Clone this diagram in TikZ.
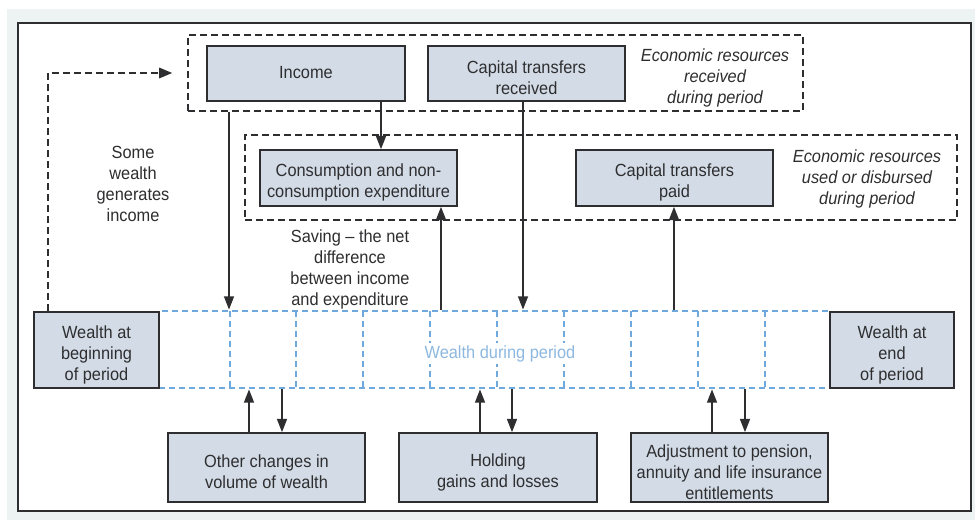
\documentclass[tikz,border=0pt]{standalone}
\usepackage{fontspec}
\setmainfont{Liberation Sans}[FakeStretch=0.93]
\usetikzlibrary{arrows.meta}
\definecolor{ink}{HTML}{2E2E30}
\definecolor{boxfill}{HTML}{D3DCE6}
\definecolor{pale}{HTML}{EDF2F2}
\definecolor{wblue}{HTML}{6FA8DC}
\definecolor{wtext}{HTML}{8DB8E0}

\begin{document}
\begin{tikzpicture}[x=0.75pt,y=-0.75pt,
  every node/.style={font=\fontsize{13.2}{15.75}\selectfont, text=ink, align=center, inner sep=0pt},
  sz/.style 2 args={minimum width=#1*0.75pt, minimum height=#2*0.75pt},
  box/.style={draw=ink, fill=boxfill, line width=1.2pt},
  txt/.style={yshift=-3.5pt},
  group/.style={draw=ink, line width=2.2pt, dash pattern=on 5.25pt off 3pt},
  blue dash/.style={draw=wblue, line width=2.1pt, dash pattern=on 4.5pt off 3pt},
  arr/.style={draw=ink, line width=1.2pt, -{Triangle[length=10pt,width=7.5pt]}},
  loop arr/.style={draw=ink, line width=2.2pt, dash pattern=on 5.25pt off 3pt,
    -{Triangle[length=10pt,width=7.5pt]}},
  note/.style={font=\fontsize{13.2}{15.75}\selectfont\itshape}
]
\useasboundingbox (0,0) rectangle (975,520);

% page background and frame
\fill[pale] (7,9) rectangle (975,520);
\draw[ink, fill=white, line width=2pt] (18,23) rectangle (971,511);

% resource groups
\node[group, sz={615}{76}] (recv) at (495.5,73) {};
\node[group, sz={712}{85}] (used) at (601,177.5) {};

% wealth during the period
\node[blue dash, sz={671}{77}] (wdp) at (494.5,349.5) {};
\foreach \xx in {230,296,363,430,497,564,631,698,765}
  \draw[blue dash] (\xx,311) -- (\xx,388);
\node[text=wtext, fill=white, inner sep=2pt] (wdplabel) at (500,353.5) {Wealth during period};

% flows
\node[box, sz={198}{55}, label={[yshift=0.75pt]center:{Income}}] (inc) at (306,73.5) {};
\node[box, sz={197}{55}, label={[txt]center:{Capital transfers\\received}}] (crec) at (526.5,73.5) {};
\node[note] (recvnote) at (715,77.5) {Economic resources\\received\\during period};

\node[box, sz={197}{56}, label={[txt]center:{Consumption and non-\\consumption expenditure}}] (cons) at (358.5,178) {};
\node[box, sz={197}{56}, label={[txt]center:{Capital transfers\\paid}}] (cpaid) at (674.5,178) {};
\node[note] (usednote) at (867,179) {Economic resources\\used or disbursed\\during period};

% stocks
\node[box, sz={125}{76}, label={[txt]center:{Wealth at\\beginning\\of period}}] (wbeg) at (96.5,350) {};
\node[box, sz={124}{76}, label={[txt]center:{Wealth at\\end\\of period}}] (wend) at (892,350) {};

% other changes
\node[box, sz={197}{69}, label={[txt]center:{Other changes in\\volume of wealth}}] (other) at (266.5,467.5) {};
\node[box, sz={198}{69}, label={[txt]center:{Holding\\gains and losses}}] (hold) at (498,467.5) {};
\node[box, sz={197}{69}, label={[txt]center:{Adjustment to pension,\\annuity and life insurance\\entitlements}}] (adj) at (729.5,467.5) {};

% labels
\node (somewealth) at (133,184) {Some\\wealth\\generates\\income};
\node (saving) at (350,269) {Saving -- the net\\difference\\between income\\and expenditure};

% x positions of the connectors
\coordinate (xa) at (229,0);
\coordinate (xb) at (381,0);
\coordinate (xc) at (523,0);
\coordinate (xd) at (441,0);
\coordinate (xe) at (674,0);
\coordinate (xloop) at (48,0);
\coordinate (o1) at (249,0);
\coordinate (o2) at (282,0);
\coordinate (h1) at (480,0);
\coordinate (h2) at (512,0);
\coordinate (a1) at (712,0);
\coordinate (a2) at (745,0);

\draw[arr] (recv.south -| xa) -- (wdp.north -| xa);
\draw[arr] (inc.south -| xb) -- (cons.north -| xb);
\draw[arr] (crec.south -| xc) -- (wdp.north -| xc);
\draw[arr] (wdp.north -| xd) -- (cons.south -| xd);
\draw[arr] (wdp.north -| xe) -- (cpaid.south -| xe);

\draw[loop arr] (wbeg.north -| xloop) |- ([xshift=-10.5pt]recv.west);

\draw[arr] (other.north -| o1) -- (wdp.south -| o1);
\draw[arr] (wdp.south -| o2) -- (other.north -| o2);
\draw[arr] (hold.north -| h1) -- (wdp.south -| h1);
\draw[arr] (wdp.south -| h2) -- (hold.north -| h2);
\draw[arr] (adj.north -| a1) -- (wdp.south -| a1);
\draw[arr] (wdp.south -| a2) -- (adj.north -| a2);
\end{tikzpicture}
\end{document}
